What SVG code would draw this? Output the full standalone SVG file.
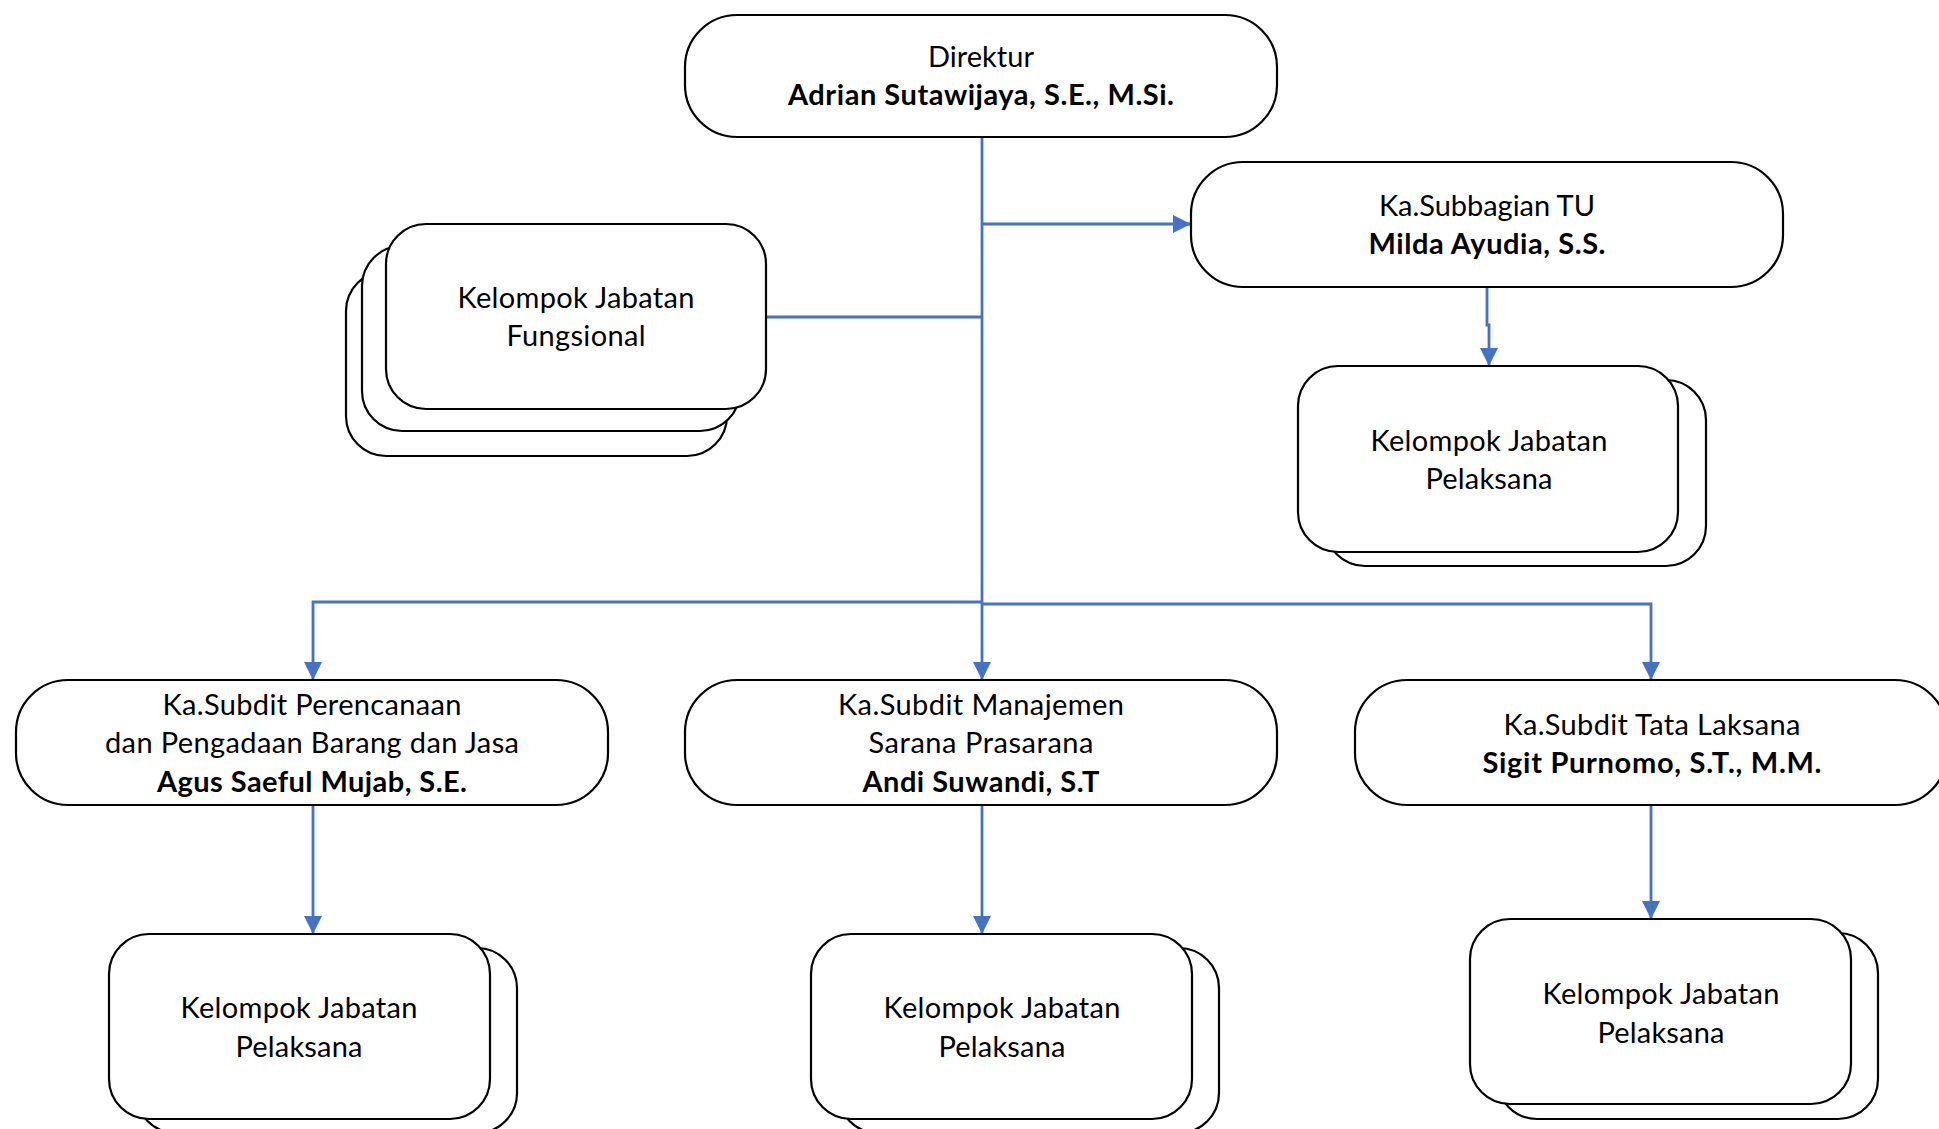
<svg xmlns="http://www.w3.org/2000/svg" width="1939" height="1129" viewBox="0 0 1939 1129">
<style>
.pill{fill:#fff;stroke:#000;stroke-width:2.2}
.box{fill:#fff;stroke:#000;stroke-width:2.2}
.t{font-family:Lato,"Open Sans","Liberation Sans",sans-serif;font-size:29px;fill:#000;text-anchor:middle}
.b{font-weight:bold}
.c{fill:none;stroke:#4472C4;stroke-width:2.8}
</style>
<defs>
<marker id="ah" markerUnits="userSpaceOnUse" markerWidth="19" markerHeight="19" refX="18" refY="9" orient="auto">
<path d="M0,0 L18,9 L0,18 z" fill="#4472C4"/>
</marker>
</defs>
<g id="connectors">
<path class="c" d="M982,137 V680" marker-end="url(#ah)"/>
<path class="c" d="M982,224 H1191" marker-end="url(#ah)"/>
<path class="c" d="M766,317 H982"/>
<path class="c" d="M982,602 H313 V680" marker-end="url(#ah)"/>
<path class="c" d="M982,604 H1651 V680" marker-end="url(#ah)"/>
<path class="c" d="M1487,287 V325 H1489 V366" marker-end="url(#ah)"/>
<path class="c" d="M313,805 V934" marker-end="url(#ah)"/>
<path class="c" d="M982,805 V934" marker-end="url(#ah)"/>
<path class="c" d="M1651,805 V919" marker-end="url(#ah)"/>
</g>
<g id="direktur">
<rect class="pill" x="685" y="15" width="592" height="122" rx="52"/>
<text class="t" x="981" y="67" textLength="106">Direktur</text>
<text class="t b" x="981" y="105" textLength="386">Adrian Sutawijaya, S.E., M.Si.</text>
</g>
<g id="subbagian-tu">
<rect class="pill" x="1191" y="162" width="592" height="125" rx="52"/>
<text class="t" x="1487" y="216" textLength="216">Ka.Subbagian TU</text>
<text class="t b" x="1487" y="254" textLength="237">Milda Ayudia, S.S.</text>
</g>
<g id="jabatan-fungsional">
<rect class="box" x="346" y="271" width="381" height="185" rx="40"/>
<rect class="box" x="362" y="246" width="378" height="185" rx="40"/>
<rect class="box" x="386" y="224" width="380" height="185" rx="40"/>
<text class="t" x="576" y="308" textLength="237">Kelompok Jabatan</text>
<text class="t" x="576" y="346" textLength="139">Fungsional</text>
</g>
<g id="pelaksana-tu">
<rect class="box" x="1325" y="380" width="381" height="186" rx="40"/>
<rect class="box" x="1298" y="366" width="380" height="186" rx="40"/>
<text class="t" x="1489" y="451" textLength="237">Kelompok Jabatan</text>
<text class="t" x="1489" y="489" textLength="127">Pelaksana</text>
</g>
<g id="subdit-perencanaan">
<rect class="pill" x="16" y="680" width="592" height="125" rx="52"/>
<text class="t" x="312" y="715" textLength="299">Ka.Subdit Perencanaan</text>
<text class="t" x="312" y="753" textLength="414">dan Pengadaan Barang dan Jasa</text>
<text class="t b" x="312" y="792" textLength="310">Agus Saeful Mujab, S.E.</text>
</g>
<g id="subdit-manajemen">
<rect class="pill" x="685" y="680" width="592" height="125" rx="52"/>
<text class="t" x="981" y="715" textLength="286">Ka.Subdit Manajemen</text>
<text class="t" x="981" y="753" textLength="225">Sarana Prasarana</text>
<text class="t b" x="981" y="792" textLength="237">Andi Suwandi, S.T</text>
</g>
<g id="subdit-tata-laksana">
<rect class="pill" x="1355" y="680" width="592" height="125" rx="52"/>
<text class="t" x="1652" y="735" textLength="297">Ka.Subdit Tata Laksana</text>
<text class="t b" x="1652" y="773" textLength="339">Sigit Purnomo, S.T., M.M.</text>
</g>
<g id="pelaksana-perencanaan">
<rect class="box" x="136" y="948" width="381" height="185" rx="40"/>
<rect class="box" x="109" y="934" width="381" height="185" rx="40"/>
<text class="t" x="299" y="1018" textLength="237">Kelompok Jabatan</text>
<text class="t" x="299" y="1057" textLength="127">Pelaksana</text>
</g>
<g id="pelaksana-manajemen">
<rect class="box" x="838" y="948" width="381" height="185" rx="40"/>
<rect class="box" x="811" y="934" width="381" height="185" rx="40"/>
<text class="t" x="1002" y="1018" textLength="237">Kelompok Jabatan</text>
<text class="t" x="1002" y="1057" textLength="127">Pelaksana</text>
</g>
<g id="pelaksana-tata-laksana">
<rect class="box" x="1497" y="933" width="381" height="186" rx="40"/>
<rect class="box" x="1470" y="919" width="381" height="185" rx="40"/>
<text class="t" x="1661" y="1004" textLength="237">Kelompok Jabatan</text>
<text class="t" x="1661" y="1043" textLength="127">Pelaksana</text>
</g>
</svg>
